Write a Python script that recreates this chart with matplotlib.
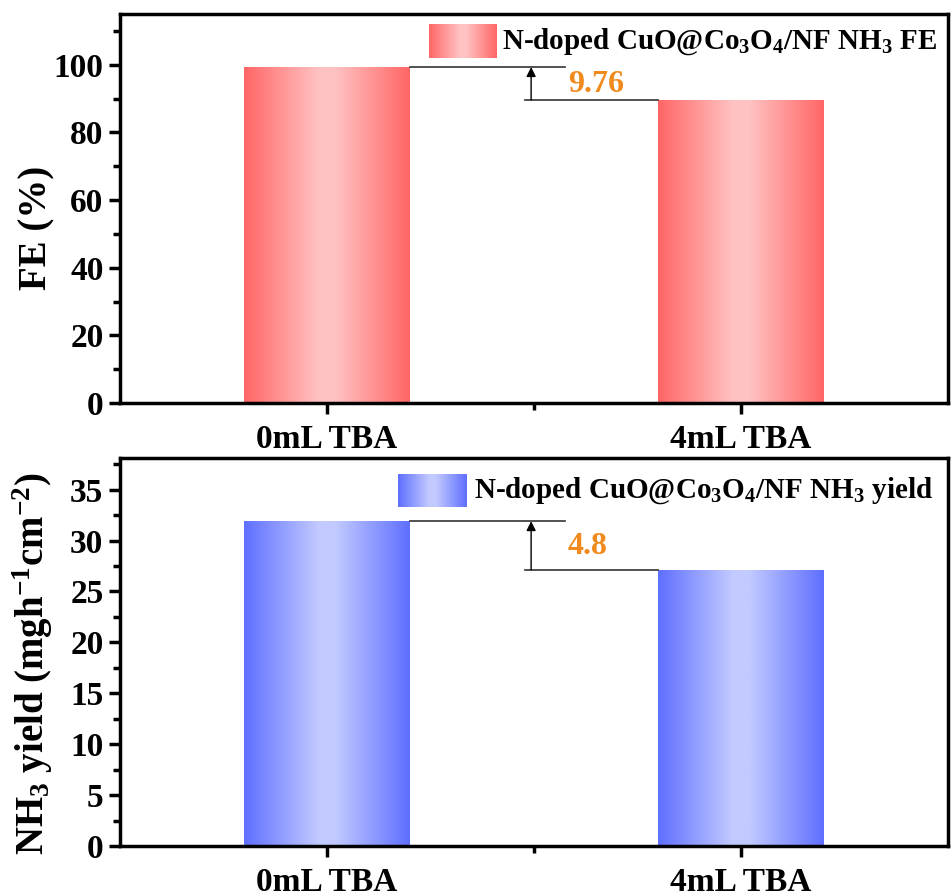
import numpy as np
import matplotlib
matplotlib.use("Agg")
import matplotlib.pyplot as plt
from matplotlib.colors import LinearSegmentedColormap

plt.rcParams['font.family'] = ['Liberation Serif', 'DejaVu Serif']
plt.rcParams['font.weight'] = 'bold'
plt.rcParams['mathtext.fontset'] = 'custom'
plt.rcParams['mathtext.rm'] = 'Liberation Serif:bold'
plt.rcParams['mathtext.it'] = 'Liberation Serif:bold'
plt.rcParams['mathtext.bf'] = 'Liberation Serif:bold'
plt.rcParams['mathtext.default'] = 'rm'

# ---- data ----
categories = ['0mL TBA', '4mL TBA']
fe_values = [99.3, 89.54]
yield_values = [31.9, 27.1]
fe_diff_label = '9.76'
yield_diff_label = '4.8'
fe_legend = r'N-doped CuO@Co$_3$O$_4$/NF NH$_3$ FE'
yield_legend = r'N-doped CuO@Co$_3$O$_4$/NF NH$_3$ yield'
fe_ylabel = 'FE (%)'
yield_ylabel = r'NH$_3$ yield (mgh$^{-1}$cm$^{-2}$)'
fe_yticks = [0, 20, 40, 60, 80, 100]
yield_yticks = [0, 5, 10, 15, 20, 25, 30, 35]

red_cmap = LinearSegmentedColormap.from_list('r', [(0, '#FF6666'), (0.45, '#FFC2C2'), (0.55, '#FFC2C2'), (1, '#FF6666')])
blue_cmap = LinearSegmentedColormap.from_list('b', [(0, '#5F6FFF'), (0.45, '#C2CAFF'), (0.55, '#C2CAFF'), (1, '#5F6FFF')])
grad = np.linspace(0, 1, 256).reshape(1, -1)

fig = plt.figure(figsize=(9.52, 8.96), dpi=100)
ax1 = fig.add_axes([0.1261, 0.5502, 0.8697, 0.4342])
ax2 = fig.add_axes([0.1261, 0.0558, 0.8697, 0.4330])

width = 0.4
x = np.arange(len(categories))
orange = '#F08A1C'


def style(ax, ylim, yticks, minor_step, ylabel, label_y):
    ax.set_xlim(-0.5, 1.5)
    ax.set_ylim(*ylim)
    ax.set_xticks(x)
    ax.set_xticklabels(categories, fontsize=24, fontweight='bold')
    ax.set_xticks([0.5], minor=True)
    ax.set_yticks(yticks)
    ax.set_yticklabels([str(t) for t in yticks], fontsize=24, fontweight='bold')
    ax.set_yticks(np.arange(yticks[0] + minor_step, ylim[1], minor_step * 2), minor=True)
    ax.tick_params(axis='both', which='major', direction='out', length=8, width=2.5)
    ax.tick_params(axis='x', which='major', pad=7)
    ax.tick_params(axis='y', which='major', pad=4)
    ax.tick_params(axis='both', which='minor', direction='out', length=5, width=2.5)
    ax.tick_params(top=False, right=False)
    for s in ax.spines.values():
        s.set_linewidth(2.5)
    ax.set_ylabel(ylabel, fontsize=28, fontweight='bold')
    ax.yaxis.set_label_coords(-0.078, label_y)


def grad_bars(ax, vals, cmap):
    bars = ax.bar(x, vals, width=width, color='none', edgecolor='none')
    for b in bars:
        x0, w, h = b.get_x(), b.get_width(), b.get_height()
        ax.imshow(grad, cmap=cmap, aspect='auto', extent=[x0, x0 + w, 0, h], zorder=1, interpolation='bicubic')
    ax.set_xlim(-0.5, 1.5)
    return bars


def diff_annot(ax, vals, label, ytext):
    hi, lo = vals
    ax.plot([width / 2, 0.575], [hi, hi], color='#333333', lw=1.2, zorder=3)
    ax.plot([0.478, 1 - width / 2], [lo, lo], color='#333333', lw=1.2, zorder=3)
    ax.annotate('', xy=(0.493, hi), xytext=(0.493, lo),
                arrowprops=dict(arrowstyle='-|>', color='black', lw=1.0, mutation_scale=14, shrinkA=0, shrinkB=0))
    ax.text(0.582, ytext, label, color=orange, fontsize=23, fontweight='bold', va='center', ha='left')


grad_bars(ax1, fe_values, red_cmap)
style(ax1, (0, 115), fe_yticks, 10, fe_ylabel, 0.45)
diff_annot(ax1, fe_values, fe_diff_label, 94.3)

grad_bars(ax2, yield_values, blue_cmap)
style(ax2, (0, 38.1), yield_yticks, 2.5, yield_ylabel, 0.47)
diff_annot(ax2, yield_values, yield_diff_label, 29.4)

# legends (gradient patch + label)
lg1 = fig.add_axes([429 / 952, 1 - 58 / 896, 67 / 952, 34 / 896])
lg1.imshow(grad, cmap=red_cmap, aspect='auto', interpolation='bicubic')
lg1.axis('off')
fig.text(502 / 952, 1 - 42 / 896, fe_legend, fontsize=21, fontweight='bold', va='center', ha='left')

lg2 = fig.add_axes([398 / 952, 1 - 507 / 896, 68 / 952, 33 / 896])
lg2.imshow(grad, cmap=blue_cmap, aspect='auto', interpolation='bicubic')
lg2.axis('off')
fig.text(474 / 952, 1 - 491 / 896, yield_legend, fontsize=21, fontweight='bold', va='center', ha='left')

fig.savefig('out.png', dpi=100, facecolor='white')
